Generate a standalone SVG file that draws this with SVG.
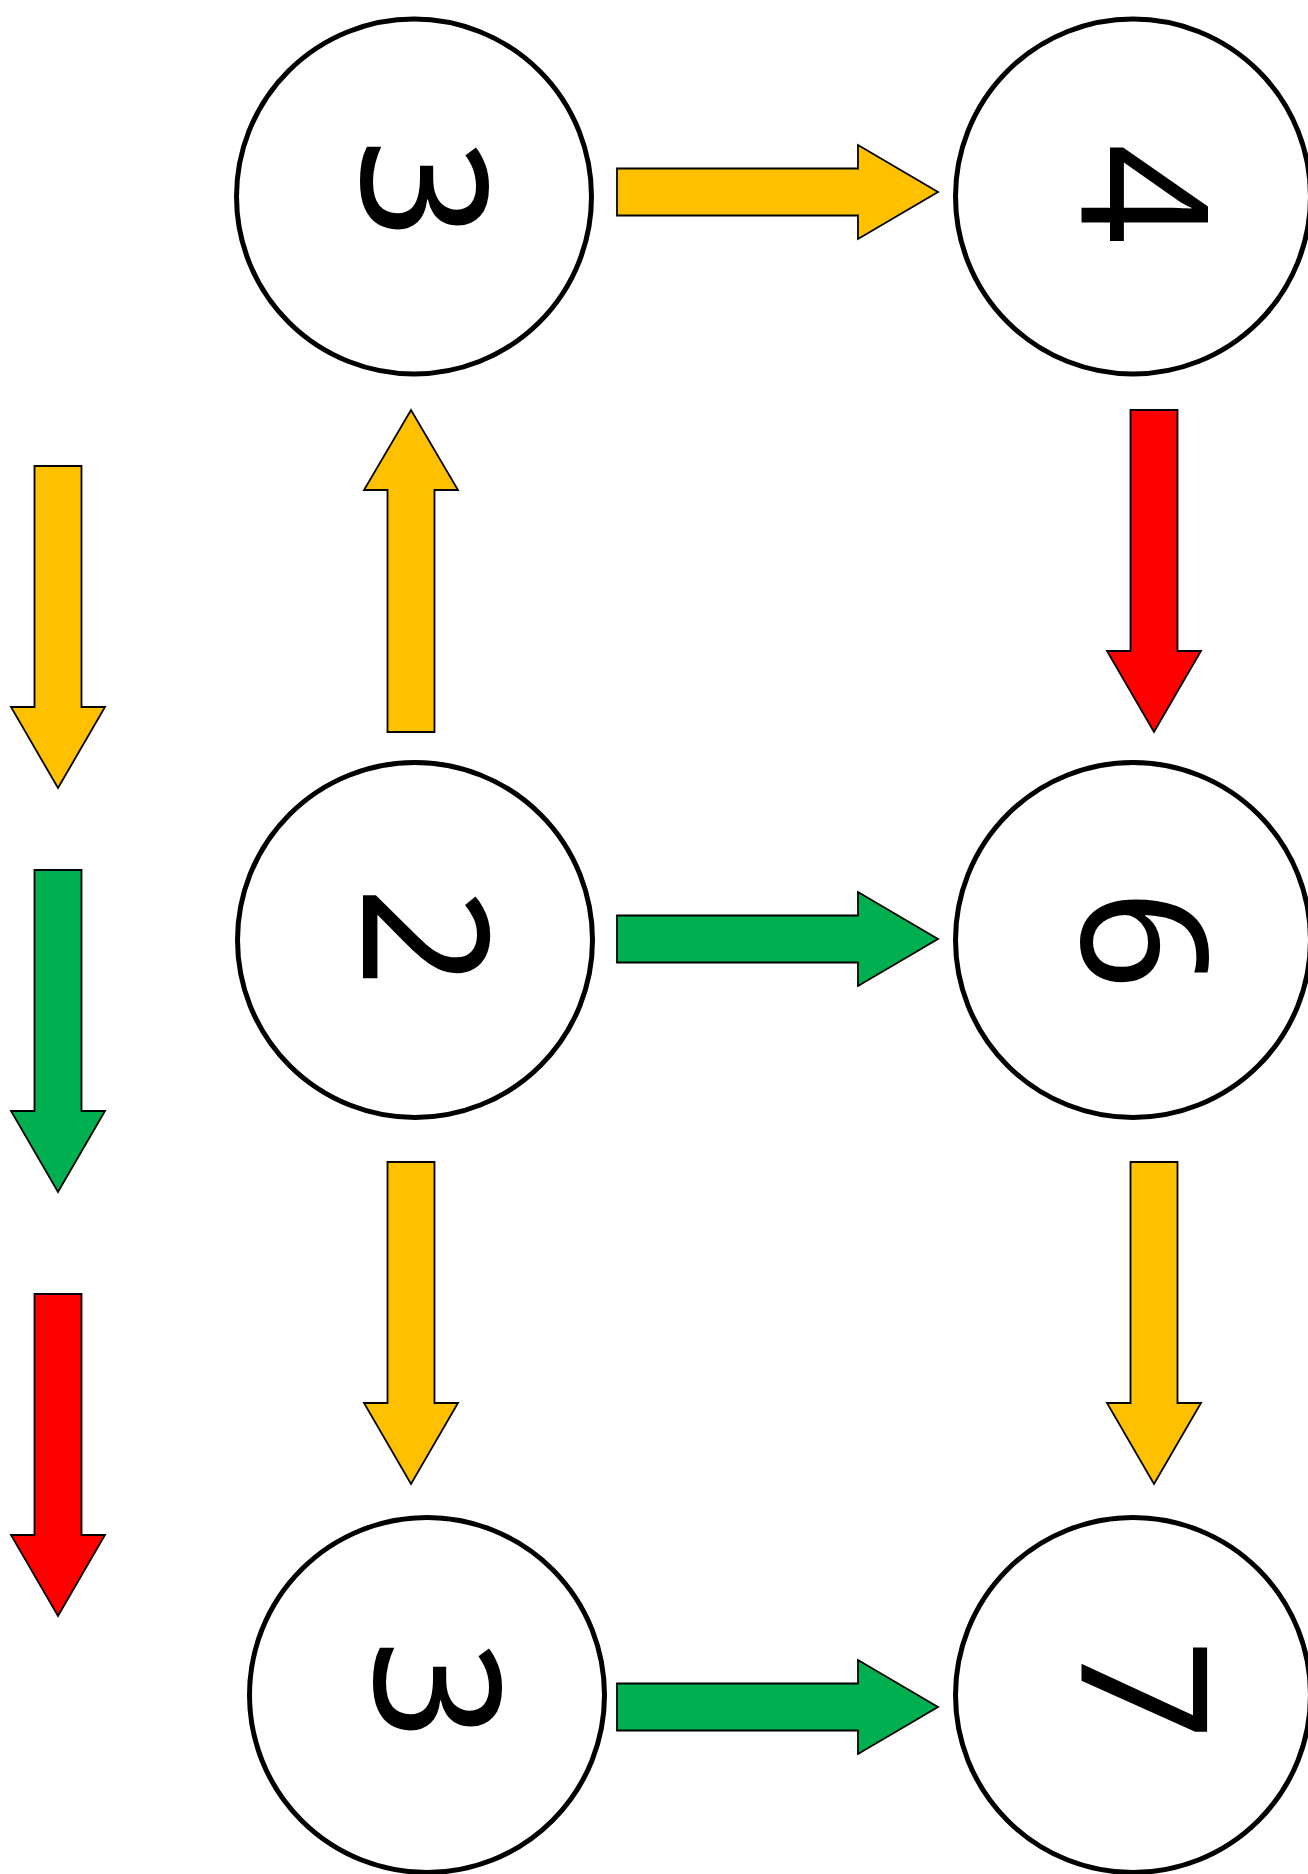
<svg xmlns="http://www.w3.org/2000/svg" width="1308" height="1874" viewBox="0 0 1308 1874">
<style>
.node circle{fill:#fff;stroke:#000;stroke-width:5}
.node text{font-family:"Noto Sans","Open Sans",sans-serif;font-size:176px;fill:#000;text-anchor:middle}
.arr{stroke:#000;stroke-width:1.8;stroke-linejoin:miter}
.y{fill:#FFC000}.g{fill:#00B050}.r{fill:#FF0000}
</style>
<defs>
<path id="right" d="M0,-23.5 H241 V-47 L321,0 L241,47 V23.5 H0 Z"/>
<path id="down" d="M-23.5,0 H23.5 V241 H47 L0,322 L-47,241 H-23.5 Z"/>
<path id="up" d="M-23.5,0 H23.5 V-242 H47 L0,-322 L-47,-242 H-23.5 Z"/>
</defs>
<rect width="1308" height="1874" fill="#fff"/>
<g id="connectors">
<use href="#right" class="arr y" x="617" y="192"/>
<use href="#up" class="arr y" x="411" y="732"/>
<use href="#down" class="arr r" x="1154" y="410"/>
<use href="#right" class="arr g" x="617" y="939"/>
<use href="#down" class="arr y" x="411" y="1162"/>
<use href="#down" class="arr y" x="1154" y="1162"/>
<use href="#right" class="arr g" x="617" y="1707"/>
<use href="#down" class="arr y" x="58" y="466"/>
<use href="#down" class="arr g" x="58" y="870"/>
<use href="#down" class="arr r" x="58" y="1294"/>
</g>
<g id="node-3a" class="node"><circle cx="414" cy="196.5" r="177.5"/><text transform="translate(425,189) rotate(90)" x="0" y="63">3</text></g>
<g id="node-4" class="node"><circle cx="1133" cy="196.5" r="177.5"/><text transform="translate(1145,194) rotate(90)" x="0" y="63">4</text></g>
<g id="node-2" class="node"><circle cx="415" cy="940" r="177.5"/><text transform="translate(426,937) rotate(90)" x="0" y="63">2</text></g>
<g id="node-6" class="node"><circle cx="1133" cy="940" r="177.5"/><text transform="translate(1145,940) rotate(90)" x="0" y="63">6</text></g>
<g id="node-3b" class="node"><circle cx="427" cy="1695" r="177.5"/><text transform="translate(438,1690) rotate(90)" x="0" y="63">3</text></g>
<g id="node-7" class="node"><circle cx="1133" cy="1695" r="177.5"/><text transform="translate(1145,1690) rotate(90)" x="0" y="63">7</text></g>
</svg>
